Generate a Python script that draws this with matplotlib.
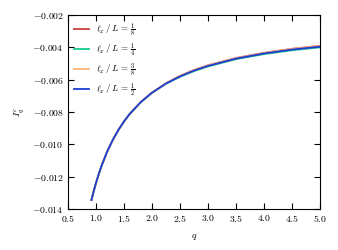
import matplotlib
matplotlib.use('Agg')
import matplotlib.pyplot as plt

plt.rcParams['mathtext.fontset'] = 'cm'
plt.rcParams['font.family'] = 'serif'
plt.rcParams['font.serif'] = ['DejaVu Serif']
plt.rcParams['axes.formatter.use_mathtext'] = True
plt.rcParams['font.size'] = 7

q = [0.92, 0.95, 1.0, 1.05, 1.1, 1.2, 1.3, 1.4, 1.5, 1.6, 1.8, 2.0,
     2.25, 2.5, 2.75, 3.0, 3.5, 4.0, 4.5, 5.0]

i_1_8 = [-0.01344, -0.01303, -0.01240, -0.01184, -0.01133, -0.01045, -0.00973,
         -0.00911, -0.00859, -0.00813, -0.00738, -0.00680, -0.00622, -0.00577,
         -0.00540, -0.00511, -0.00466, -0.00434, -0.00409, -0.00390]
i_1_4 = [-0.01344, -0.01303, -0.01240, -0.01184, -0.01133, -0.01045, -0.00973,
         -0.00911, -0.00859, -0.00813, -0.00739, -0.00681, -0.00625, -0.00582,
         -0.00547, -0.00518, -0.00473, -0.00442, -0.00418, -0.00400]
i_3_8 = [-0.01344, -0.01303, -0.01240, -0.01184, -0.01133, -0.01045, -0.00973,
         -0.00911, -0.00859, -0.00813, -0.00738, -0.00680, -0.00623, -0.00578,
         -0.00541, -0.00512, -0.00467, -0.00435, -0.00410, -0.00391]
i_1_2 = [-0.01344, -0.01303, -0.01240, -0.01184, -0.01133, -0.01045, -0.00973,
         -0.00911, -0.00859, -0.00813, -0.00739, -0.00681, -0.00624, -0.00580,
         -0.00544, -0.00515, -0.00470, -0.00438, -0.00414, -0.00396]

labels = [r'$\ell_x\,/\,L\,=\,\frac{1}{8}$', r'$\ell_x\,/\,L\,=\,\frac{1}{4}$',
          r'$\ell_x\,/\,L\,=\,\frac{3}{8}$', r'$\ell_x\,/\,L\,=\,\frac{1}{2}$']
colors = ['#c8423c', '#13c98c', '#ffb37a', '#1f3ed0']

fig = plt.figure(figsize=(3.38, 2.5), dpi=100)
ax = fig.add_axes([0.201, 0.164, 0.746, 0.776])

for ys, lab, c in zip([i_1_8, i_1_4, i_3_8, i_1_2], labels, colors):
    ax.plot(q, ys, color=c, lw=1.3, label=lab)

ax.set_xlim(0.5, 5.0)
ax.set_ylim(-0.014, -0.002)
ax.set_xticks([0.5, 1.0, 1.5, 2.0, 2.5, 3.0, 3.5, 4.0, 4.5, 5.0])
ax.set_yticks([-0.014, -0.012, -0.010, -0.008, -0.006, -0.004, -0.002])
ax.set_xticklabels(['$%.1f$' % v for v in ax.get_xticks()])
ax.set_yticklabels(['$%.3f$' % v for v in ax.get_yticks()])
ax.tick_params(direction='in', top=True, right=True, length=4, width=0.8, pad=3)
for s in ax.spines.values():
    s.set_linewidth(0.8)
ax.set_xlabel('$q$', labelpad=6)
ax.set_ylabel('$I_q^c$', labelpad=4)
ax.legend(loc='upper left', frameon=False, fontsize=6.5, handlelength=1.6,
          borderaxespad=0.3, labelspacing=0.35)

fig.savefig('out.png', dpi=100)
